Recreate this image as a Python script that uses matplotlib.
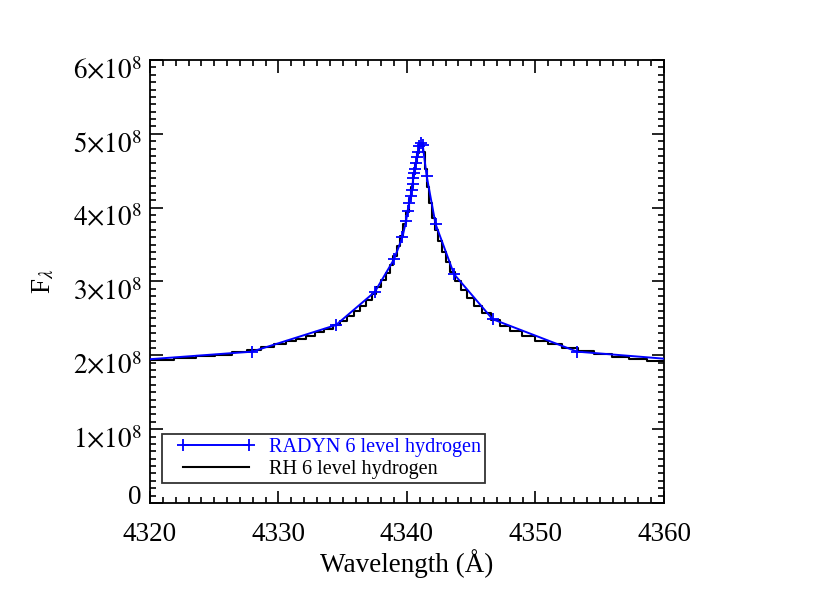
import numpy as np
import matplotlib
matplotlib.use("Agg")
from matplotlib import pyplot as plt
from matplotlib.ticker import MultipleLocator, FixedLocator, FuncFormatter
from matplotlib.legend_handler import HandlerLine2D
from matplotlib.transforms import ScaledTranslation

plt.rcParams['font.family'] = ['Liberation Serif', 'DejaVu Serif']
plt.rcParams['mathtext.fontset'] = 'stix'

# RADYN 6 level hydrogen (wavelength in A, flux in units of 1e8)
radyn_wave = [4314.0, 4327.94, 4334.47, 4337.5, 4338.99, 4339.64, 4339.93,
              4340.05, 4340.18, 4340.29, 4340.37, 4340.44, 4340.49, 4340.57,
              4340.65, 4340.70, 4340.78, 4340.86, 4340.93, 4341.07, 4341.22,
              4341.53, 4342.22, 4343.66, 4346.66, 4353.23, 4366.0]
radyn_flux = [1.87, 2.05, 2.41, 2.86, 3.30, 3.60, 3.82,
              3.96, 4.07, 4.16, 4.24, 4.32, 4.40, 4.47,
              4.53, 4.61, 4.68, 4.76, 4.83, 4.87, 4.85,
              4.43, 3.78, 3.10, 2.49, 2.05, 1.87]

# RH 6 level hydrogen
rh_wave = [4319.5, 4320.9, 4322.8, 4324.3, 4325.8, 4327.0, 4328.1, 4329.2,
           4330.1, 4331.0, 4331.75, 4332.5, 4333.2, 4333.9, 4334.55, 4335.1,
           4335.6, 4336.1, 4336.6, 4337.05, 4337.45, 4337.8, 4338.2, 4338.5,
           4338.8, 4339.1, 4339.35, 4339.6, 4339.85, 4340.05, 4340.25, 4340.4,
           4340.55, 4340.7, 4340.85, 4341.0, 4341.15, 4341.3, 4341.45, 4341.65,
           4341.85, 4342.1, 4342.3, 4342.55, 4342.85, 4343.2, 4343.55, 4343.95,
           4344.4, 4345.0, 4345.5, 4346.15, 4346.85, 4347.6, 4348.5, 4349.4,
           4350.45, 4351.5, 4352.7, 4353.9, 4355.25, 4356.6, 4358.0, 4359.4,
           4360.8]
rh_flux = [1.93, 1.94, 1.96, 1.99, 2.01, 2.04, 2.07, 2.11,
           2.15, 2.19, 2.22, 2.26, 2.31, 2.35, 2.41, 2.47,
           2.53, 2.60, 2.67, 2.75, 2.83, 2.92, 3.02, 3.12,
           3.23, 3.35, 3.48, 3.62, 3.78, 3.94, 4.12, 4.28,
           4.45, 4.60, 4.74, 4.84, 4.87, 4.76, 4.52, 4.28,
           4.06, 3.86, 3.70, 3.55, 3.40, 3.26, 3.13, 3.01,
           2.89, 2.77, 2.67, 2.57, 2.48, 2.40, 2.33, 2.26,
           2.20, 2.15, 2.10, 2.06, 2.02, 1.98, 1.95, 1.92,
           1.90]

scale = 1e8

fig = plt.figure(figsize=(8.3, 5.93), dpi=100)
ax = fig.add_axes([0.1807, 0.1518, 0.6193, 0.747])

ax.plot(rh_wave, np.array(rh_flux) * scale, color='k', lw=1.5,
        drawstyle='steps-mid', label='RH 6 level hydrogen', zorder=2)
ax.plot(radyn_wave, np.array(radyn_flux) * scale, color='#0000ff', lw=1.4,
        marker='+', ms=9, mew=1.3, label='RADYN 6 level hydrogen', zorder=3)

ax.set_xlim(4320, 4360)
ax.set_ylim(0, 6e8)

ax.xaxis.set_major_locator(MultipleLocator(10))
ax.xaxis.set_minor_locator(MultipleLocator(1))
ax.yaxis.set_major_locator(FixedLocator([i * 1e8 for i in range(7)]))
ax.yaxis.set_minor_locator(MultipleLocator(1e7))


def yfmt(v, pos):
    n = int(round(v / 1e8))
    if n == 0:
        return '0'
    return r'$%d{\times}10^{8}$' % n


ax.yaxis.set_major_formatter(FuncFormatter(yfmt))
ax.tick_params(which='both', direction='in', top=True, right=True, width=1.2)
ax.tick_params(which='major', length=9, labelsize=19.5)
ax.tick_params(axis='x', which='major', pad=13.5)
ax.tick_params(axis='y', which='major', pad=6)
ax.tick_params(which='minor', length=4.5)
for s in ax.spines.values():
    s.set_linewidth(1.3)

ax.set_xlabel('Wavelength (Å)', fontsize=19.5, labelpad=2)
ax.set_ylabel(r'F$_\lambda$', fontsize=19.5, labelpad=12)

# nudge y tick labels like the original (0 up, the rest down)
for i, t in enumerate(ax.yaxis.get_major_ticks()[:7]):
    dy = 6 if i == 0 else -6
    t.label1.set_transform(t.label1.get_transform() +
                           ScaledTranslation(0, dy / 72, fig.dpi_scale_trans))

h, l = ax.get_legend_handles_labels()
hmap = {h[1]: HandlerLine2D(numpoints=2, xpad=0.55),
        h[0]: HandlerLine2D(xpad=0.55)}
leg = ax.legend(h[::-1], l[::-1], loc='lower left', bbox_to_anchor=(0.023, 0.045),
                fontsize=14.5, frameon=True, fancybox=False, edgecolor='k',
                handlelength=4.45, borderpad=0.2, labelspacing=0.15,
                handletextpad=0.65, borderaxespad=0, numpoints=2,
                handler_map=hmap)
leg.get_frame().set_linewidth(1.3)
leg.get_texts()[0].set_color('#0000ff')

plt.savefig('out.png', dpi=100)
